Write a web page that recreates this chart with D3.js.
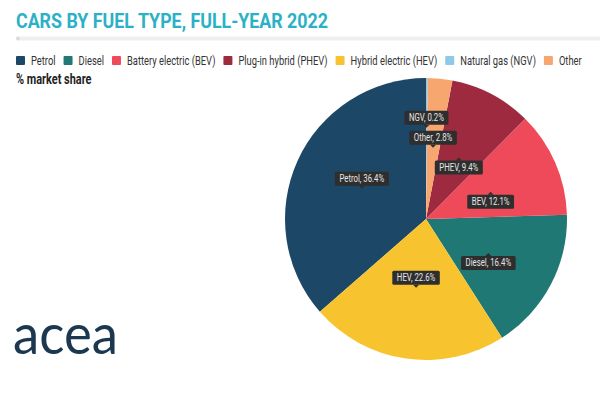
<!DOCTYPE html>
<html>
<head>
<meta charset="utf-8">
<script src="https://cdn.jsdelivr.net/npm/d3@7"></script>
<style>
  body { margin: 0; background: #fff; }
  svg { display: block; font-family: Roboto, "Noto Sans", sans-serif; }
</style>
</head>
<body>
<svg id="chart" width="600" height="398"></svg>
<script>
// data
const categories = ['Petrol', 'Diesel', 'Battery electric (BEV)', 'Plug-in hybrid (PHEV)', 'Hybrid electric (HEV)', 'Natural gas (NGV)', 'Other'];
const shortNames = ['Petrol', 'Diesel', 'BEV', 'PHEV', 'HEV', 'NGV', 'Other'];
const shares = [36.4, 16.4, 12.1, 9.4, 22.6, 0.2, 2.8];
const colors = ['#1d4767', '#1f7874', '#ef4a5a', '#9e2a40', '#f7c42f', '#8ec9e8', '#f8a66f'];

const width = 600, height = 398;
const squeeze = 0.78; // fake a condensed face

const rows = categories.map((c, i) => ({ name: c, short: shortNames[i], share: shares[i], color: colors[i] }));

const svg = d3.select('#chart');

// title + rule
svg.append('text')
  .attr('x', 16).attr('y', 28)
  .attr('font-size', 21).attr('font-weight', 700)
  .attr('fill', '#2bb1c6')
  .attr('textLength', 312).attr('lengthAdjust', 'spacingAndGlyphs')
  .text('CARS BY FUEL TYPE, FULL-YEAR 2022');

svg.append('line')
  .attr('x1', 18).attr('x2', 600).attr('y1', 38.5).attr('y2', 38.5)
  .attr('stroke', '#efefef').attr('stroke-width', 4).attr('stroke-linecap', 'round');
svg.append('circle').attr('cx', 18).attr('cy', 38.5).attr('r', 2).attr('fill', '#dcdcdc');

// legend
const legend = svg.append('g').attr('transform', 'translate(16,60.5)');
let lx = 0;
rows.forEach(d => {
  const g = legend.append('g').attr('transform', `translate(${lx},0)`);
  g.append('rect').attr('x', 0).attr('y', -4.5).attr('width', 9).attr('height', 9)
    .attr('rx', 1).attr('fill', d.color);
  const t = g.append('text')
    .attr('transform', `translate(15,4) scale(${squeeze},1)`)
    .attr('font-size', 12).attr('fill', '#333')
    .text(d.name);
  lx += 15 + t.node().getComputedTextLength() * squeeze + 8;
});

svg.append('text')
  .attr('transform', `translate(16,84) scale(${squeeze},1)`)
  .attr('font-size', 14).attr('font-weight', 700).attr('fill', '#222')
  .text('% market share');

// pie
const cx = 426, cy = 219, R = 141;
const pie = d3.pie().value(d => d.share).sort((a, b) => a.share - b.share);
const arcs = pie(rows);
const arc = d3.arc().innerRadius(0).outerRadius(R);

const plot = svg.append('g').attr('transform', `translate(${cx},${cy})`);
plot.selectAll('path')
  .data(arcs)
  .join('path')
  .attr('d', arc)
  .attr('fill', d => d.data.color);

// tooltip-style labels at the slice centroids
const labels = plot.append('g');
const placed = [];
const boxH = 14;
arcs.slice().sort((a, b) => b.data.share - a.data.share).forEach(d => {
  const [ax, ay] = arc.centroid(d);
  const mid = (d.startAngle + d.endAngle) / 2;
  const below = mid > 0.25 && mid < Math.PI;
  const g = labels.append('g');
  const t = g.append('text')
    .attr('font-size', 10).attr('fill', '#e6e6e6')
    .attr('text-anchor', 'middle')
    .text(`${d.data.short}, ${d.data.share}%`);
  const w = t.node().getComputedTextLength() * squeeze + 9;
  let top = below ? ay + 4 : ay - 4 - boxH;
  // push up until it no longer overlaps an earlier label
  let moved = true;
  while (moved) {
    moved = false;
    for (const p of placed) {
      if (Math.abs(p.x - ax) < (p.w + w) / 2 && top < p.top + boxH + 6 && top + boxH + 6 > p.top) {
        top = p.top - boxH - 6;
        moved = true;
      }
    }
  }
  placed.push({ x: ax, top, w });
  const notchY = below ? top : top + boxH;
  const dir = below ? -1 : 1;
  g.insert('path', 'text')
    .attr('d', `M${ax - 3},${notchY}L${ax},${notchY + dir * 3}L${ax + 3},${notchY}Z`)
    .attr('fill', '#2e2e2e');
  g.insert('rect', 'text')
    .attr('x', ax - w / 2).attr('y', top)
    .attr('width', w).attr('height', boxH)
    .attr('rx', 1.5)
    .attr('fill', '#2e2e2e');
  t.attr('transform', `translate(${ax},${top + 10.5}) scale(${squeeze},1)`);
});

// logo
svg.append('text')
  .attr('x', 13).attr('y', 354)
  .attr('font-family', 'Lato, "Open Sans", sans-serif')
  .attr('font-size', 56).attr('font-weight', 400)
  .attr('fill', '#1b3850')
  .attr('textLength', 105).attr('lengthAdjust', 'spacingAndGlyphs')
  .text('acea');
</script>
</body>
</html>
